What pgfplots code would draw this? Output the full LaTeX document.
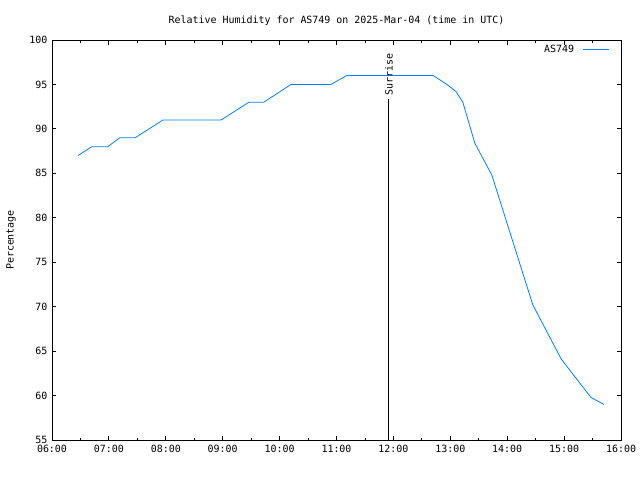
\documentclass[border=0pt]{standalone}
\usepackage{pgfplots}
\pgfplotsset{compat=1.18}
\usepackage{fontspec}
\setmainfont{DejaVu Sans Mono}
\setmonofont{DejaVu Sans Mono}
\definecolor{hum}{RGB}{0,128,255}
\begin{document}
\begin{tikzpicture}
\useasboundingbox (-52bp,-40bp) rectangle (588bp,440bp);
\begin{axis}[
  at={(0,0)}, anchor=south west,
  scale only axis, width=569bp, height=400bp,
  xmin=6, xmax=16, ymin=55, ymax=100,
  xtick={6,7,...,16},
  xticklabels={06:00,07:00,08:00,09:00,10:00,11:00,12:00,13:00,14:00,15:00,16:00},
  minor xtick={6.5,7.5,...,15.5},
  ytick={55,60,...,100},
  tick align=inside,
  major tick length=4.5bp, minor tick length=2.5bp,
  tick style={black, line width=0.8bp},
  axis line style={line width=0.8bp},
  every tick label/.append style={font=\fontsize{10}{11}\selectfont},
  /pgf/number format/assume math mode=true,
  yticklabel style={xshift=-1bp},
  xticklabel style={yshift=-2bp},
  ylabel={Percentage},
  ylabel style={font=\fontsize{10}{11}\selectfont, at={(-41bp,200bp)}, anchor=center},
  legend style={draw=none, fill=none, font=\fontsize{10}{11}\selectfont,
    at={(rel axis cs:1,1)}, anchor=north east, xshift=-8bp, yshift=-1bp},
  legend plot pos=right,
  legend image code/.code={\draw[#1] (0bp,0bp) -- (26bp,0bp);},
]
\addplot[hum, line width=0.8bp] coordinates {
(6.457,87) (6.70,88) (6.98,88) (7.19,89) (7.46,89) (7.95,91) (8.97,91)
(9.46,93) (9.72,93) (10.20,95) (10.90,95) (11.18,96) (12.70,96)
(12.94,95) (13.10,94.2) (13.22,93) (13.43,88.4) (13.73,84.8)
(14.45,70.2) (14.95,64.1) (15.47,59.8) (15.70,59.0)
};
\addlegendentry{AS749\makebox[7bp]{}}
\addplot[black, line width=0.8bp, forget plot] coordinates {(11.92,55) (11.92,93.4)};
\node[rotate=90, anchor=west, font=\fontsize{10}{11}\selectfont, inner sep=1bp] at (axis cs:11.92,93.6) {Surrise};
\end{axis}
\node[font=\fontsize{10}{11}\selectfont] at (284.5bp,419.5bp) {Relative Humidity for AS749 on 2025-Mar-04 (time in UTC)};
\end{tikzpicture}
\end{document}
